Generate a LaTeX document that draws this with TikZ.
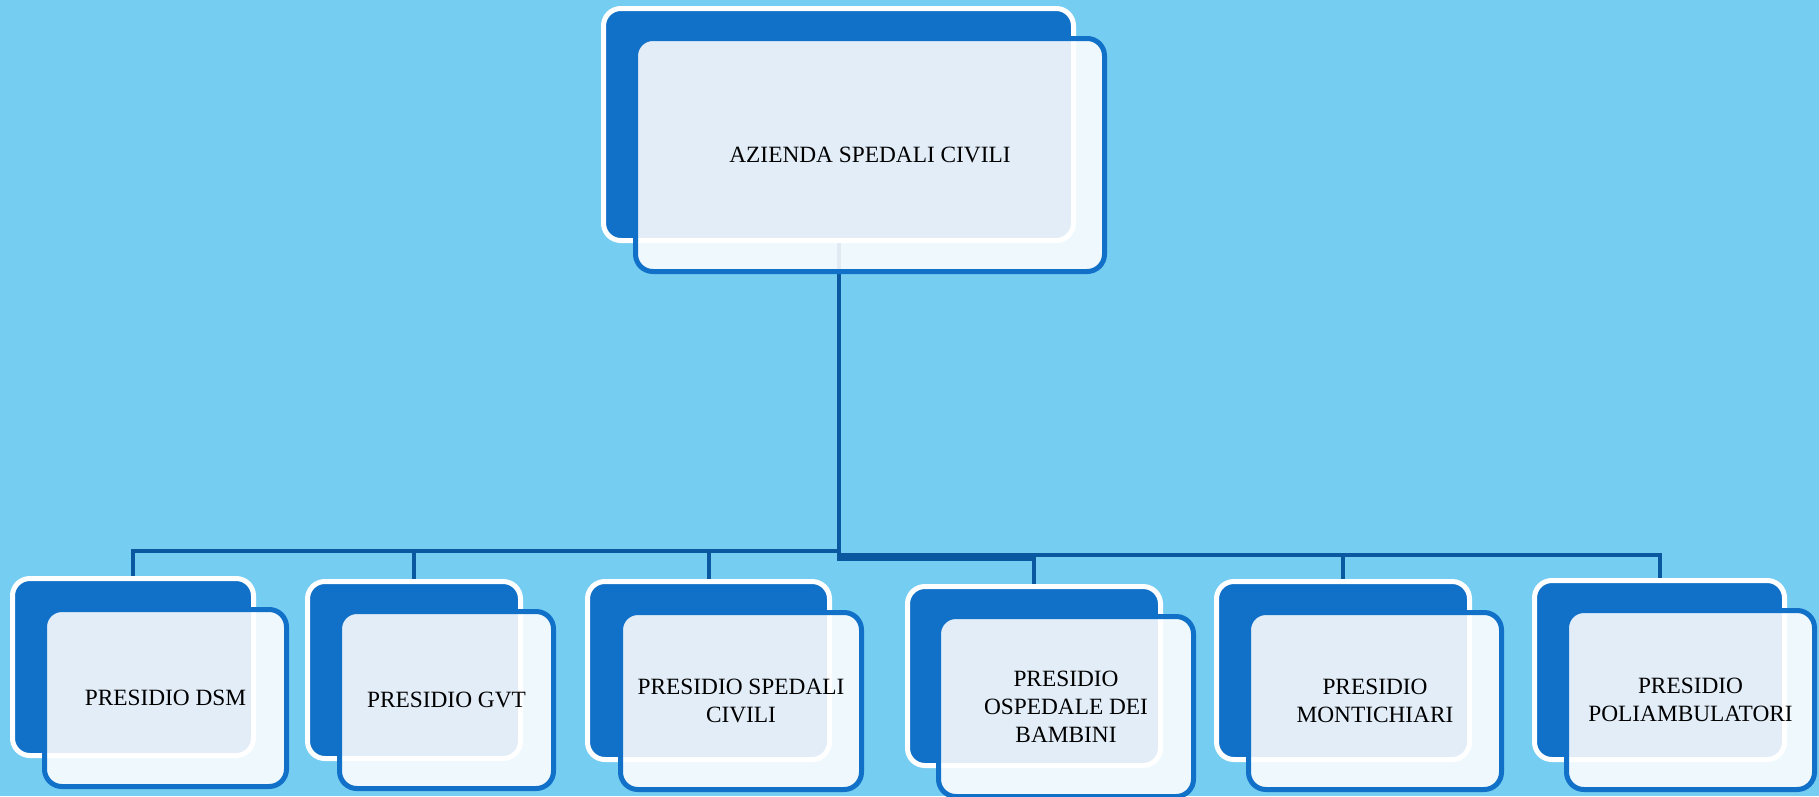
\documentclass[tikz,border=0pt]{standalone}
\usepackage{fontspec}
\setmainfont{Liberation Serif}
\definecolor{bg}{HTML}{76CDF2}
\definecolor{boxblue}{HTML}{1170C7}
\definecolor{linkblue}{HTML}{0A58A0}
\pgfdeclarelayer{bottom}
\pgfdeclarelayer{links}
\pgfsetlayers{bottom,links,main}
\begin{document}
\begin{tikzpicture}[x=0.75pt,y=-0.75pt,
  sz/.style 2 args={minimum width=#1*0.75pt, minimum height=#2*0.75pt},
  backbox/.style={draw=white,line width=3.75pt,fill=boxblue,rounded corners=13pt,inner sep=0pt},
  frontbox/.style={draw=boxblue,line width=3.75pt,fill=white,fill opacity=0.88,text opacity=1,
    rounded corners=13pt,inner sep=0pt,align=center,text=black,font=\fontsize{17.5}{21}\selectfont},
  conn/.style={draw=linkblue,line width=3pt}]
\useasboundingbox (0,0) rectangle (1819,796);
\begin{pgfonlayer}{bottom}
\fill[bg] (0,0) rectangle (1819,796);
\end{pgfonlayer}

\coordinate (busL) at (0,551);
\coordinate (busR) at (0,555);
\coordinate (busM) at (0,559);

% back boxes
\node[backbox,sz={470}{232}] (tb) at (838.5,124.5) {};
\node[backbox,sz={241}{177}] (b1) at (133,667) {};
\node[backbox,sz={213}{177}] (b2) at (414,670) {};
\node[backbox,sz={242}{178}] (b3) at (708.5,670.5) {};
\node[backbox,sz={253}{179}] (b4) at (1034,676) {};
\node[backbox,sz={253}{178}] (b5) at (1343,670.5) {};
\node[backbox,sz={250}{179}] (b6) at (1659.5,670) {};

% connectors behind the boxes
\begin{pgfonlayer}{links}
\draw[conn] (tb.south) |- (b1.north |- busL) -- (b1.north);
\draw[conn] (tb.south) |- (b2.north |- busL) -- (b2.north);
\draw[conn] (tb.south) |- (b3.north |- busL) -- (b3.north);
\draw[conn] (tb.south) |- (b4.north |- busM) -- (b4.north);
\draw[conn] (tb.south) |- (b5.north |- busR) -- (b5.north);
\draw[conn] (tb.south) |- (b6.north |- busR) -- (b6.north);
\end{pgfonlayer}

% front boxes with text
\node[frontbox,sz={469}{233}] (t) at (870,155) {AZIENDA SPEDALI CIVILI};
\node[frontbox,sz={242}{177}] (f1) at (165.5,698) {PRESIDIO DSM};
\node[frontbox,sz={214}{177}] (f2) at (446.5,700) {PRESIDIO GVT};
\node[frontbox,sz={241}{177}] (f3) at (741,701) {PRESIDIO SPEDALI\\CIVILI};
\node[frontbox,sz={255}{180}] (f4) at (1066,706.5) {PRESIDIO\\OSPEDALE DEI\\BAMBINI};
\node[frontbox,sz={253}{177}] (f5) at (1375,701) {PRESIDIO\\MONTICHIARI};
\node[frontbox,sz={248}{179}] (f6) at (1690.5,700) {PRESIDIO\\POLIAMBULATORI};
\end{tikzpicture}
\end{document}
